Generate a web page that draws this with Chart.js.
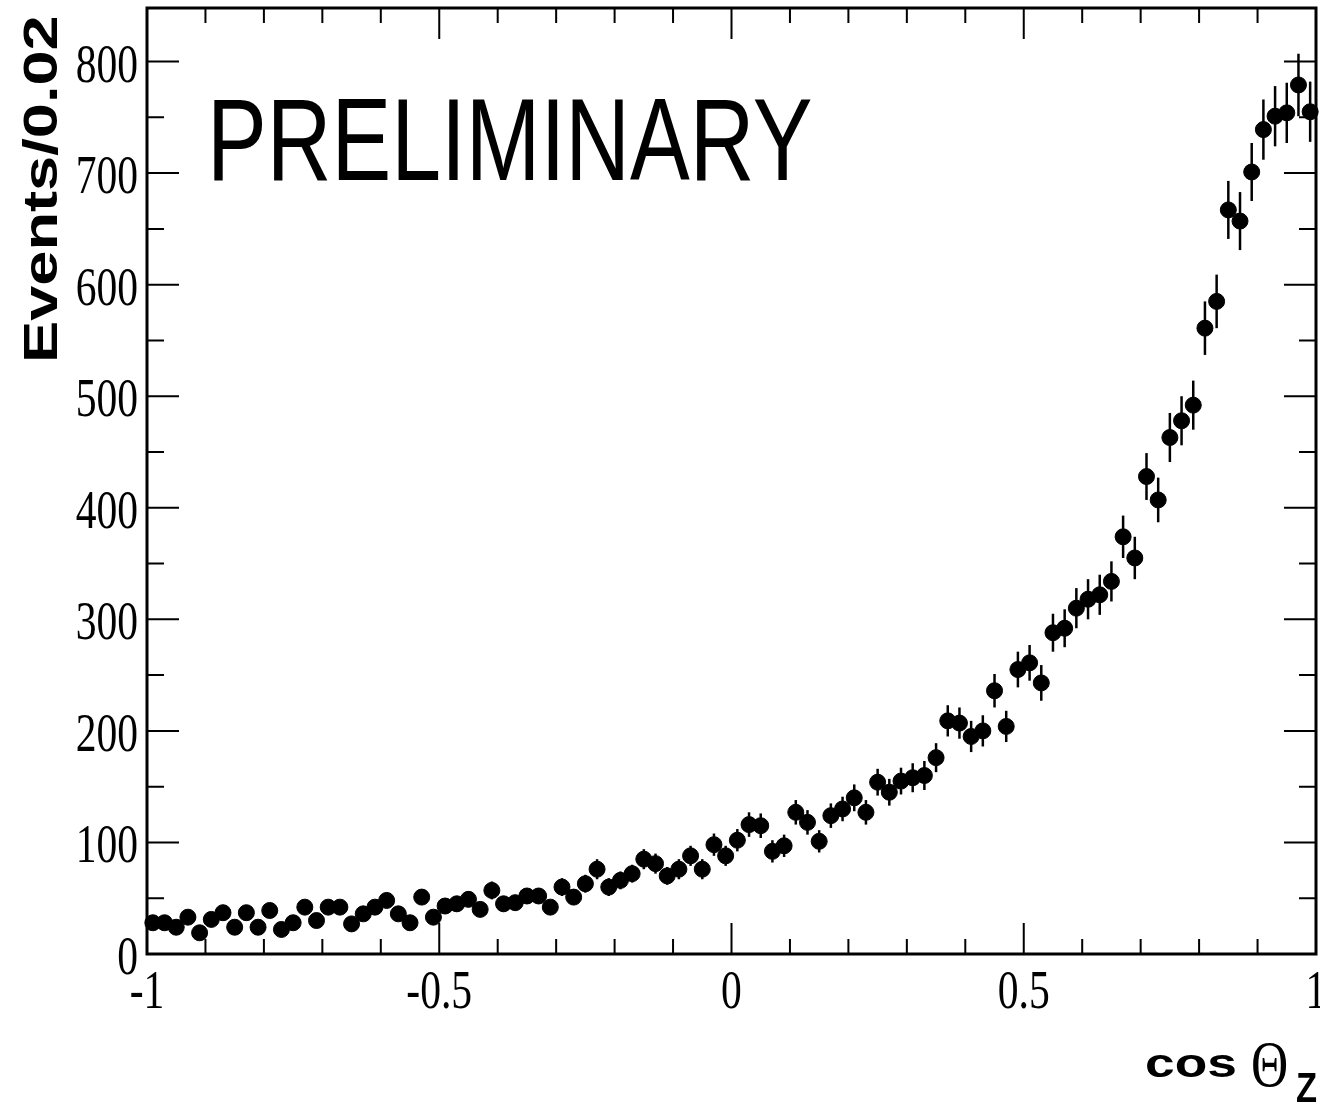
<!DOCTYPE html>
<html>
<head>
<meta charset="utf-8">
<script src="https://cdn.jsdelivr.net/npm/chart.js@4.4.1/dist/chart.umd.min.js"></script>
<style>
  html, body { margin: 0; padding: 0; background: #fff; }
  #wrap { width: 1320px; height: 1104px; }
</style>
</head>
<body>
<div id="wrap"><canvas id="cosChart" width="1320" height="1104"></canvas></div>
<script>
// cos(theta_z) distribution, 100 bins of 0.02 between -1 and 1
const BIN_MIN = -1;
const BIN_WIDTH = 0.02;

const counts = [
  28, 28, 24, 33, 19, 31, 37, 24, 37, 24,
  39, 22, 28, 42, 30, 42, 42, 27, 36, 42,
  48, 36, 28, 51, 33, 43, 45, 49, 40, 57,
  45, 46, 52, 52, 42, 60, 51, 63, 76, 60,
  66, 72, 85, 81, 70, 76, 88, 76, 98, 88,
  102, 116, 115, 92, 97, 127, 118, 101, 124, 130,
  140, 127, 154, 145, 155, 158, 160, 176, 209, 207,
  195, 200, 236, 204, 255, 261, 243, 288, 292, 310,
  318, 322, 334, 374, 355, 428, 407, 463, 478, 492,
  561, 585, 667, 657, 701, 739, 751, 754, 779, 755
];

const countErrors = [
  5, 5, 5, 6, 4, 6, 6, 5, 6, 5,
  6, 5, 5, 6, 5, 6, 6, 5, 6, 6,
  7, 6, 5, 7, 6, 7, 7, 7, 6, 8,
  7, 7, 7, 7, 6, 8, 7, 8, 9, 8,
  8, 8, 9, 9, 8, 9, 9, 9, 10, 9,
  10, 11, 11, 10, 10, 11, 11, 10, 11, 11,
  12, 11, 12, 12, 12, 13, 13, 13, 14, 14,
  14, 14, 15, 14, 16, 16, 16, 17, 17, 18,
  18, 18, 18, 19, 19, 21, 20, 22, 22, 22,
  24, 24, 26, 26, 26, 27, 27, 27, 28, 27
];

const xTickValues = [-1, -0.5, 0, 0.5, 1];
const xTickLabels = ['-1', '-0.5', '0', '0.5', '1'];
const yTickValues = [0, 100, 200, 300, 400, 500, 600, 700, 800];
const yTickLabels = ['0', '100', '200', '300', '400', '500', '600', '700', '800'];

const points = counts.map((c, i) => ({ x: BIN_MIN + BIN_WIDTH * (i + 0.5), y: c }));

const drawText = (ctx, text, x, y, o) => {
  ctx.save();
  ctx.translate(x, y);
  if (o.rotate) ctx.rotate(o.rotate);
  ctx.scale(o.sx || 1, o.sy || 1);
  ctx.font = o.font;
  ctx.textAlign = o.align || 'left';
  ctx.textBaseline = 'alphabetic';
  ctx.fillStyle = '#000';
  ctx.fillText(text, 0, 0);
  ctx.restore();
};

const rootStyle = {
  id: 'rootStyle',
  beforeDatasetsDraw(chart) {
    const { ctx, scales: { x, y } } = chart;
    ctx.save();
    ctx.strokeStyle = '#000';
    ctx.lineWidth = 2.5;
    points.forEach((p, i) => {
      const px = x.getPixelForValue(p.x);
      ctx.beginPath();
      ctx.moveTo(px, y.getPixelForValue(p.y - countErrors[i]));
      ctx.lineTo(px, y.getPixelForValue(p.y + countErrors[i]));
      ctx.stroke();
    });
    ctx.restore();
  },
  afterDatasetsDraw(chart) {
    const { ctx, chartArea: a, scales: { x, y } } = chart;
    ctx.save();
    ctx.strokeStyle = '#000';

    // frame
    ctx.lineWidth = 3;
    ctx.strokeRect(a.left, a.top, a.right - a.left, a.bottom - a.top);

    // ticks on all four sides, pointing inwards
    ctx.lineWidth = 2;
    ctx.beginPath();
    for (let k = -10; k <= 10; k++) {
      const px = x.getPixelForValue(k / 10);
      const len = k % 5 === 0 ? 31 : 15;
      ctx.moveTo(px, a.bottom); ctx.lineTo(px, a.bottom - len);
      ctx.moveTo(px, a.top); ctx.lineTo(px, a.top + len);
    }
    for (let v = 0; v <= y.max; v += 50) {
      const py = y.getPixelForValue(v);
      const len = v % 100 === 0 ? 32 : 17;
      ctx.moveTo(a.left, py); ctx.lineTo(a.left + len, py);
      ctx.moveTo(a.right, py); ctx.lineTo(a.right - len, py);
    }
    ctx.stroke();
    ctx.restore();

    // tick labels
    const tickFont = '54px "Liberation Serif"';
    yTickValues.forEach((v, i) => {
      drawText(ctx, yTickLabels[i], a.left - 9, y.getPixelForValue(v) + 20,
        { font: tickFont, sx: 0.77, align: 'right' });
    });
    xTickValues.forEach((v, i) => {
      drawText(ctx, xTickLabels[i], x.getPixelForValue(v), a.bottom + 54,
        { font: tickFont, sx: 0.77, align: 'center' });
    });

    // axis titles
    drawText(ctx, 'Events/0.02', 57, 363,
      { font: 'bold 54px "Liberation Sans"', rotate: -Math.PI / 2, sx: 1.17, sy: 0.9 });
    drawText(ctx, 'cos', 1145, 1077, { font: 'bold 41px "Liberation Sans"', sx: 1.3 });
    drawText(ctx, 'Θ', 1251, 1086, { font: '66px "Liberation Serif"', sx: 0.78 });
    drawText(ctx, 'Z', 1296, 1102, { font: 'bold 42px "Liberation Sans"', sx: 0.82 });

    drawText(ctx, 'PRELIMINARY', 207, 180, { font: '116px "Liberation Sans"', sx: 0.772 });
  }
};

new Chart(document.getElementById('cosChart'), {
  type: 'scatter',
  data: {
    datasets: [{
      label: 'data',
      data: points,
      backgroundColor: '#000',
      borderColor: '#000',
      pointRadius: 8,
      pointHoverRadius: 8,
      clip: false,
    }],
  },
  options: {
    responsive: false,
    animation: false,
    events: [],
    layout: { autoPadding: false, padding: { left: 147, right: 4, top: 8, bottom: 150 } },
    plugins: {
      legend: { display: false },
      tooltip: { enabled: false },
    },
    scales: {
      x: { type: 'linear', min: -1, max: 1, display: false },
      y: { type: 'linear', min: 0, max: 848, display: false },
    },
  },
  plugins: [rootStyle],
});
</script>
</body>
</html>
